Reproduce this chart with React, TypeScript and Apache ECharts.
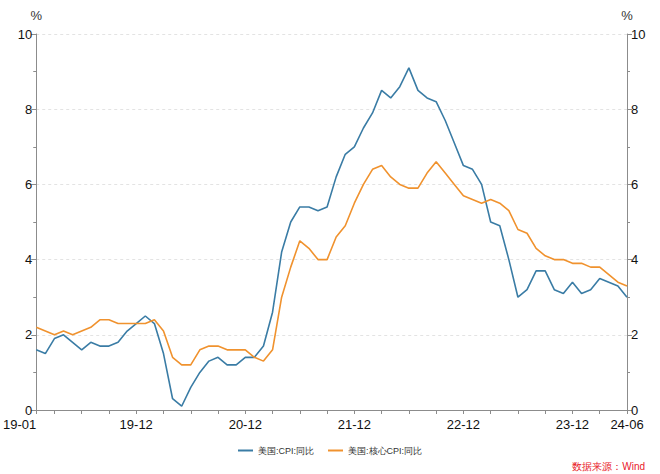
import React, { useEffect, useRef } from "react";
import * as echarts from "echarts";

const years = ["19", "20", "21", "22", "23", "24"];
const categories: string[] = [];
years.forEach((y) => {
  const last = y === "24" ? 6 : 12;
  for (let m = 1; m <= last; m++) categories.push(`${y}-${m < 10 ? "0" + m : m}`);
});

const cpi = [
  1.6, 1.5, 1.9, 2.0, 1.8, 1.6, 1.8, 1.7, 1.7, 1.8, 2.1, 2.3,
  2.5, 2.3, 1.5, 0.3, 0.1, 0.6, 1.0, 1.3, 1.4, 1.2, 1.2, 1.4,
  1.4, 1.7, 2.6, 4.2, 5.0, 5.4, 5.4, 5.3, 5.4, 6.2, 6.8, 7.0,
  7.5, 7.9, 8.5, 8.3, 8.6, 9.1, 8.5, 8.3, 8.2, 7.7, 7.1, 6.5,
  6.4, 6.0, 5.0, 4.9, 4.0, 3.0, 3.2, 3.7, 3.7, 3.2, 3.1, 3.4,
  3.1, 3.2, 3.5, 3.4, 3.3, 3.0,
];

const coreCpi = [
  2.2, 2.1, 2.0, 2.1, 2.0, 2.1, 2.2, 2.4, 2.4, 2.3, 2.3, 2.3,
  2.3, 2.4, 2.1, 1.4, 1.2, 1.2, 1.6, 1.7, 1.7, 1.6, 1.6, 1.6,
  1.4, 1.3, 1.6, 3.0, 3.8, 4.5, 4.3, 4.0, 4.0, 4.6, 4.9, 5.5,
  6.0, 6.4, 6.5, 6.2, 6.0, 5.9, 5.9, 6.3, 6.6, 6.3, 6.0, 5.7,
  5.6, 5.5, 5.6, 5.5, 5.3, 4.8, 4.7, 4.3, 4.1, 4.0, 4.0, 3.9,
  3.9, 3.8, 3.8, 3.6, 3.4, 3.3,
];

const labelIdx = [0, 11, 23, 35, 47, 59, 65];
const seriesNames = ["美国:CPI:同比", "美国:核心CPI:同比"];
const sourceText = "数据来源：Wind";

const FONT = "'Liberation Sans', Arial, Helvetica, sans-serif";
const AXIS_COLOR = "#8c8c8c";

export default function App() {
  const ref = useRef<HTMLDivElement>(null);
  useEffect(() => {
    if (!ref.current) return;
    const chart = echarts.init(ref.current, null, { renderer: "svg" });
    const yAxisBase = (pos: "left" | "right") => ({
      type: "value",
      position: pos,
      min: 0,
      max: 10,
      interval: 2,
      name: "%",
      nameLocation: "end",
      nameGap: 12,
      nameTextStyle: { color: "#333", fontSize: 13, fontFamily: FONT, align: "center" },
      axisLine: { show: true, lineStyle: { color: AXIS_COLOR, width: 1 } },
      axisTick: { show: true, length: 5, lineStyle: { color: AXIS_COLOR } },
      minorTick: { show: true, splitNumber: 2, length: 3, lineStyle: { color: AXIS_COLOR } },
      axisLabel: { color: "#111", fontSize: 13, fontFamily: FONT, margin: 4 },
      splitLine: {
        show: pos === "left",
        lineStyle: { color: "#e3e3e3", type: [3, 3], width: 1 },
      },
    });
    chart.setOption({
      animation: false,
      backgroundColor: "#ffffff",
      grid: { left: 31, right: 33, top: 34, bottom: 64, containLabel: false },
      xAxis: {
        type: "category",
        data: categories,
        boundaryGap: false,
        axisLine: { show: true, lineStyle: { color: AXIS_COLOR, width: 1 } },
        axisTick: {
          show: true,
          length: 4,
          interval: (i: number) => i === 0 || i % 3 === 2,
          lineStyle: { color: AXIS_COLOR },
        },
        axisLabel: {
          interval: (i: number) => labelIdx.indexOf(i) >= 0,
          color: "#111",
          fontSize: 13,
          fontFamily: FONT,
          margin: 8,
          alignMinLabel: "right",
          showMinLabel: true,
          showMaxLabel: true,
        },
        splitLine: { show: false },
      },
      yAxis: [yAxisBase("left"), yAxisBase("right")],
      legend: {
        bottom: 14,
        left: "center",
        itemWidth: 15,
        itemHeight: 2,
        itemGap: 14,
        icon: "rect",
        textStyle: { fontSize: 9, color: "#333", fontFamily: FONT },
        data: seriesNames,
      },
      graphic: [
        {
          type: "text",
          right: 15,
          bottom: 3,
          style: { text: sourceText, fill: "#e8202a", fontSize: 10, fontFamily: FONT },
        },
      ],
      series: [
        {
          name: seriesNames[0],
          type: "line",
          data: cpi,
          yAxisIndex: 0,
          showSymbol: false,
          symbol: "none",
          lineStyle: { color: "#3a7ca5", width: 1.6 },
          itemStyle: { color: "#3a7ca5" },
        },
        {
          name: seriesNames[1],
          type: "line",
          data: coreCpi,
          yAxisIndex: 0,
          showSymbol: false,
          symbol: "none",
          lineStyle: { color: "#f0922e", width: 1.6 },
          itemStyle: { color: "#f0922e" },
        },
      ],
    });
    return () => chart.dispose();
  }, []);
  return (
    <div
      ref={ref}
      style={{ position: "absolute", left: 0, top: 0, width: 660, height: 474 }}
    />
  );
}
